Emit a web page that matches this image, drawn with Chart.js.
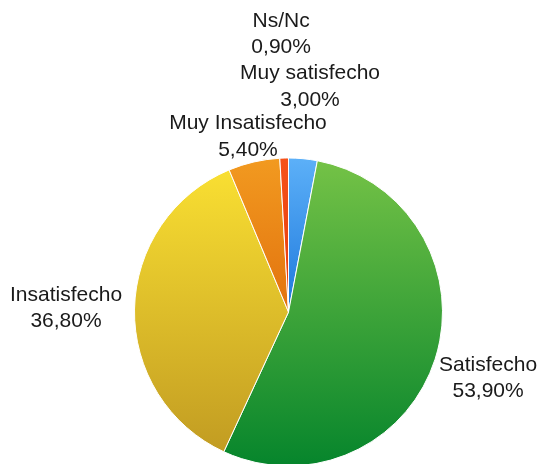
<!DOCTYPE html>
<html>
<head>
<meta charset="utf-8">
<script src="https://cdn.jsdelivr.net/npm/chart.js@4/dist/chart.umd.min.js"></script>
<style>
html,body{margin:0;padding:0;background:#fff;}
#wrap{width:540px;height:464px;position:relative;}
</style>
</head>
<body>
<div id="wrap"><canvas id="c" width="540" height="464"></canvas></div>
<script>
const categories = ['Muy satisfecho', 'Satisfecho', 'Insatisfecho', 'Muy Insatisfecho', 'Ns/Nc'];
const values = [3.0, 53.9, 36.8, 5.4, 0.9];
const topColors = ['#5cb0f8', '#74c246', '#f9df32', '#f29a20', '#f5521a'];
const bottomColors = ['#1e78dc', '#06852c', '#c29c22', '#e2720e', '#e63a0a'];
// label nudges (px) from the outer midpoint of each slice
const labelNudge = [[7, -72], [53, 19], [-68.5, -1], [-6, -25], [-3, -124]];

const PIE_R = 154;

function fmt(v) { return v.toFixed(2).replace('.', ',') + '%'; }

function sliceGradient(ctx) {
  const chart = ctx.chart;
  const area = chart.chartArea;
  if (!area) return topColors[ctx.dataIndex];
  const i = ctx.dataIndex;
  const total = values.reduce((a, b) => a + b, 0);
  let s = 0;
  for (let k = 0; k < i; k++) s += values[k];
  const a0 = s / total * Math.PI * 2;
  const a1 = (s + values[i]) / total * Math.PI * 2;
  const cy = (area.top + area.bottom) / 2;
  const ys = [cy, cy - PIE_R * Math.cos(a0), cy - PIE_R * Math.cos(a1)];
  if (a0 <= 0.0001) ys.push(cy - PIE_R);
  if (a1 >= Math.PI * 2 - 0.0001) ys.push(cy - PIE_R);
  if (a0 <= Math.PI && a1 >= Math.PI) ys.push(cy + PIE_R);
  const y0 = Math.min(...ys), y1 = Math.max(...ys);
  const g = chart.ctx.createLinearGradient(0, y0, 0, y1);
  g.addColorStop(0, topColors[i]);
  g.addColorStop(1, bottomColors[i]);
  return g;
}

const labelPlugin = {
  id: 'outerLabels',
  afterDatasetsDraw(chart) {
    const ctx = chart.ctx;
    const meta = chart.getDatasetMeta(0);
    ctx.save();
    ctx.font = '21px "Liberation Sans", Arial, Helvetica, sans-serif';
    ctx.fillStyle = '#1a1a1a';
    ctx.textAlign = 'center';
    ctx.textBaseline = 'middle';
    meta.data.forEach((arc, i) => {
      const p = arc.getProps(['x', 'y', 'startAngle', 'endAngle', 'outerRadius'], true);
      const mid = (p.startAngle + p.endAngle) / 2;
      const ax = p.x + Math.cos(mid) * p.outerRadius + labelNudge[i][0];
      const ay = p.y + Math.sin(mid) * p.outerRadius + labelNudge[i][1];
      ctx.fillText(categories[i], ax, ay - 13.25);
      ctx.fillText(fmt(values[i]), ax, ay + 13.25);
    });
    ctx.restore();
  }
};

new Chart(document.getElementById('c'), {
  type: 'pie',
  data: {
    labels: categories,
    datasets: [{
      data: values,
      backgroundColor: sliceGradient,
      borderColor: '#ffffff',
      borderWidth: 1,
      radius: PIE_R
    }]
  },
  options: {
    responsive: false,
    animation: false,
    devicePixelRatio: 1,
    layout: { padding: { top: 160, bottom: 0, left: 37, right: 0 } },
    plugins: {
      legend: { display: false },
      tooltip: { enabled: false }
    }
  },
  plugins: [labelPlugin]
});
</script>
</body>
</html>
